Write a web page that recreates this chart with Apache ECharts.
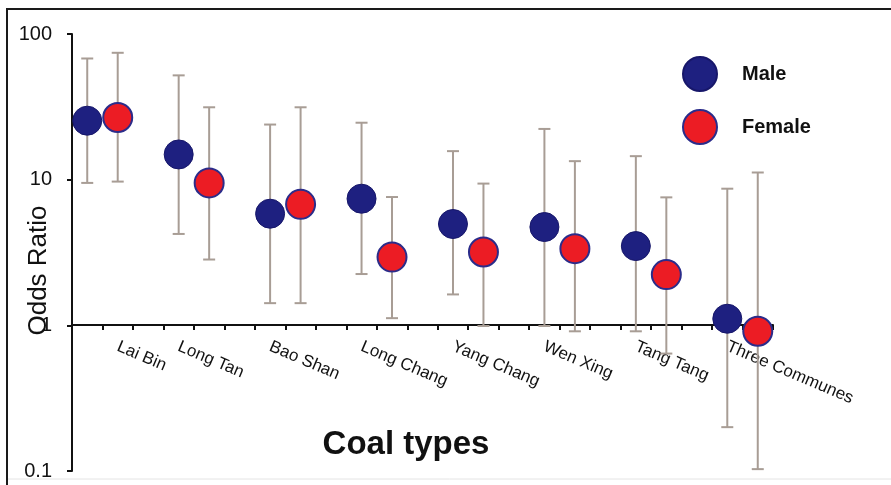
<!DOCTYPE html>
<html>
<head>
<meta charset="utf-8">
<script src="https://cdn.jsdelivr.net/npm/echarts@6/dist/echarts.min.js"></script>
<style>
  html, body { margin: 0; padding: 0; background: #fff; }
  #chart { width: 891px; height: 485px; }
</style>
</head>
<body>
<div id="chart"></div>
<script>
'use strict';
// 类别刻度（23 个槽位，每组占 3 个）
let tickLabels = ['', 'Lai Bin', '', 'Long Tan', '', '', 'Bao Shan', '', '', 'Long Chang', '', '',
    'Yang Chang', '', '', 'Wen Xing', '', '', 'Tang Tang', '', '', 'Three Communes', ''];
let maleSlot = [0, 3, 6, 9, 12, 15, 18, 21];
let femaleSlot = [1, 4, 7, 10, 13, 16, 19, 22];

// odds ratio 及 95% CI
let maleOR = [25.4, 14.9, 5.84, 7.4, 4.96, 4.73, 3.5, 1.11];
let maleLow = [9.5, 4.24, 1.42, 2.25, 1.63, 0.99, 0.91, 0.20];
let maleHigh = [67.9, 52, 23.9, 24.6, 15.7, 22.3, 14.5, 8.67];
let femaleOR = [26.7, 9.5, 6.77, 2.94, 3.19, 3.36, 2.23, 0.91];
let femaleLow = [9.7, 2.83, 1.42, 1.12, 0.99, 0.91, 0.64, 0.103];
let femaleHigh = [74.3, 31.4, 31.4, 7.6, 9.4, 13.4, 7.56, 11.2];

let font = 'Liberation Sans, Arial, sans-serif';
let barColor = '#a89d95';

function points(slots, vals) {
    let arr = [];
    for (let i = 0; i < slots.length; i++) {
        arr.push([slots[i], vals[i]]);
    }
    return arr;
}

function bars(slots, low, high) {
    let arr = [];
    for (let i = 0; i < slots.length; i++) {
        arr.push([slots[i], low[i], high[i]]);
    }
    return arr;
}

// 误差线
function renderBar(params, api) {
    let top = api.coord([api.value(0), api.value(2)]);
    let bottom = api.coord([api.value(0), api.value(1)]);
    let half = 6;
    let style = { stroke: barColor, lineWidth: 2 };
    return {
        type: 'group',
        children: [
            { type: 'line', shape: { x1: top[0], y1: top[1], x2: bottom[0], y2: bottom[1] }, style: style },
            { type: 'line', shape: { x1: top[0] - half, y1: top[1], x2: top[0] + half, y2: top[1] }, style: style },
            { type: 'line', shape: { x1: bottom[0] - half, y1: bottom[1], x2: bottom[0] + half, y2: bottom[1] }, style: style },
        ],
    };
}

let myChart = echarts.init(document.getElementById('chart'));
let option = {
    backgroundColor: '#fff',
    animation: false,
    textStyle: { fontFamily: font },
    graphic: [
        {
            type: 'polyline',
            shape: { points: [[7, 485], [7, 9], [891, 9]] },
            style: { stroke: '#1a1a1a', lineWidth: 2, fill: null },
        },
        {
            type: 'line',
            shape: { x1: 8, y1: 479, x2: 891, y2: 479 },
            style: { stroke: '#e4e4e4', lineWidth: 1 },
        },
    ],
    legend: {
        orient: 'vertical',
        left: 677,
        top: 51,
        itemWidth: 74,
        itemHeight: 34,
        itemGap: 17,
        icon: 'circle',
        data: ['Male', 'Female'],
        textStyle: { fontFamily: font, fontSize: 20, fontWeight: 'bold', color: '#111' },
    },
    grid: {
        left: 72,
        top: 34,
        width: 701,
        height: 437,
        containLabel: false,
        outerBoundsMode: 'none',
    },
    xAxis: {
        type: 'category',
        data: tickLabels,
        boundaryGap: true,
        offset: -146,
        axisLine: { lineStyle: { color: '#111', width: 2 } },
        axisTick: { show: true, length: 5, interval: 0, alignWithLabel: false, lineStyle: { color: '#111', width: 2 } },
        axisLabel: {
            interval: 0,
            rotate: -23,
            margin: 21,
            fontFamily: font,
            fontSize: 17,
            color: '#111',
        },
        name: 'Coal types',
        nameLocation: 'middle',
        nameGap: 103,
        nameTextStyle: {
            fontFamily: font,
            fontSize: 33,
            fontWeight: 'bold',
            color: '#111',
            padding: [0, 33, 0, 0],
        },
        splitLine: { show: false },
    },
    yAxis: {
        type: 'log',
        logBase: 10,
        min: 0.1,
        max: 100,
        axisLine: { show: true, lineStyle: { color: '#111', width: 2 } },
        axisTick: { show: true, length: 5, lineStyle: { color: '#111', width: 2 } },
        minorTick: { show: false },
        splitLine: { show: false },
        axisLabel: { fontFamily: font, fontSize: 20, color: '#111', margin: 20 },
        name: 'Odds Ratio',
        nameLocation: 'middle',
        nameRotate: 90,
        nameGap: 20,
        nameMoveOverlap: false,
        nameTextStyle: {
            fontFamily: font,
            fontSize: 26,
            color: '#111',
            padding: [0, 36, 0, 0],
        },
    },
    series: [
        {
            name: 'Male CI',
            type: 'custom',
            renderItem: renderBar,
            encode: { x: 0, y: [1, 2] },
            data: bars(maleSlot, maleLow, maleHigh),
            z: 1,
        },
        {
            name: 'Female CI',
            type: 'custom',
            renderItem: renderBar,
            encode: { x: 0, y: [1, 2] },
            data: bars(femaleSlot, femaleLow, femaleHigh),
            z: 1,
        },
        {
            name: 'Male',
            type: 'scatter',
            symbol: 'circle',
            symbolSize: 29,
            data: points(maleSlot, maleOR),
            itemStyle: { color: '#1e2080', borderColor: '#17176a', borderWidth: 1, opacity: 1 },
            z: 3,
        },
        {
            name: 'Female',
            type: 'scatter',
            symbol: 'circle',
            symbolSize: 29,
            data: points(femaleSlot, femaleOR),
            itemStyle: { color: '#ec1c24', borderColor: '#2b2c8a', borderWidth: 2, opacity: 1 },
            z: 3,
        },
    ],
};
myChart.setOption(option);
</script>
</body>
</html>
